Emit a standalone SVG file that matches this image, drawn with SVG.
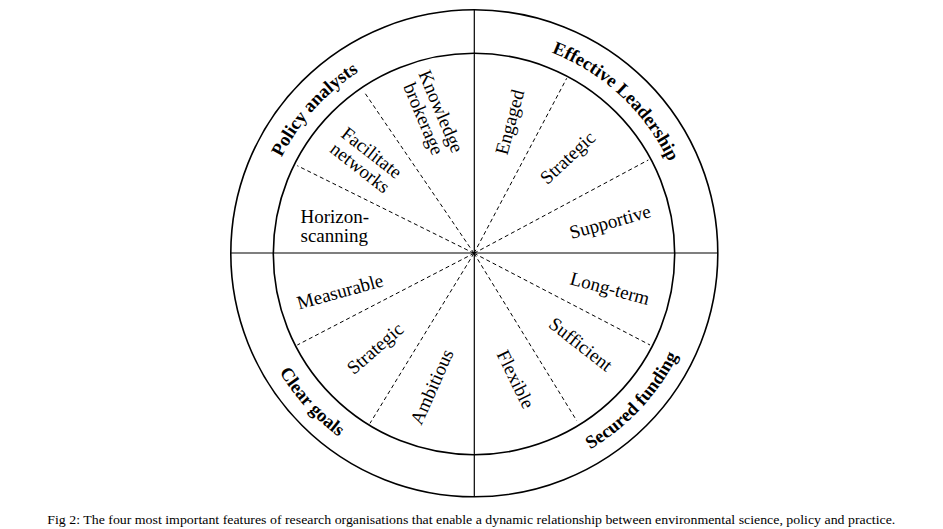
<svg xmlns="http://www.w3.org/2000/svg" width="943" height="529" viewBox="0 0 943 529">
<style>
.ring{fill:none;stroke:#000;stroke-width:1.6}
.axis{stroke:#000;stroke-width:1.2}
.dash{stroke:#000;stroke-width:1;stroke-dasharray:4 3}
.lbl{font-family:"Liberation Serif","Times New Roman",serif;font-size:19px;fill:#000}
.c{text-anchor:middle}
.head{font-family:"Liberation Serif","Times New Roman",serif;font-size:18.5px;font-weight:bold;fill:#000}
.cap{font-family:"Liberation Serif","Times New Roman",serif;font-size:12.5px;fill:#000}
</style>
<defs>
<path id="arcPolicy" d="M259.3,264.6 A215,215 0 0 1 462.75,38.6"/>
<path id="arcLead" d="M466.5,38.4 A215,215 0 0 1 688.9,245.8"/>
<path id="arcGoals" d="M246.2,243.35 A228,228 0 0 0 464.05,481.1"/>
<path id="arcFund" d="M481.96,481.16 A228,228 0 0 0 701.86,245.34"/>
</defs>
<rect width="943" height="529" fill="#fff"/>
<g id="wheel">
<circle class="ring" cx="474.3" cy="253.3" r="243.5"/>
<circle class="ring" cx="474" cy="254" r="200.7"/>
</g>
<g id="connectors">
<line class="axis" x1="231" y1="253" x2="718" y2="253"/>
<line class="axis" x1="474.3" y1="9.5" x2="474.3" y2="497"/>
<line class="dash" x1="474" y1="253.3" x2="297.3" y2="165.7"/>
<line class="dash" x1="474" y1="253.3" x2="364" y2="91.7"/>
<line class="dash" x1="474" y1="253.3" x2="566.7" y2="78.3"/>
<line class="dash" x1="474" y1="253.3" x2="648.3" y2="160"/>
<line class="dash" x1="474" y1="253.3" x2="297.3" y2="345"/>
<line class="dash" x1="474" y1="253.3" x2="370" y2="423.3"/>
<line class="dash" x1="474" y1="253.3" x2="650" y2="345"/>
<line class="dash" x1="474" y1="253.3" x2="576.7" y2="420.7"/>
</g>
<g id="policy-analysts">
<text class="head c"><textPath href="#arcPolicy" startOffset="50%">Policy analysts</textPath></text>
<text class="lbl" x="300.5" y="222.7">Horizon-</text>
<text class="lbl" x="300.5" y="241.7">scanning</text>
<text class="lbl c" transform="translate(366,160) rotate(38)"><tspan x="0" y="-3">Facilitate</tspan><tspan x="0" y="16">networks</tspan></text>
<text class="lbl c" transform="translate(432.5,115) rotate(67)"><tspan x="0" y="-3">Knowledge</tspan><tspan x="0" y="16">brokerage</tspan></text>
</g>
<g id="effective-leadership">
<text class="head c"><textPath href="#arcLead" startOffset="50%">Effective Leadership</textPath></text>
<text class="lbl c" transform="translate(509.5,122) rotate(-75)" y="6.5">Engaged</text>
<text class="lbl c" transform="translate(567.5,157.5) rotate(-43)" y="6.5">Strategic</text>
<text class="lbl c" transform="translate(610,221.7) rotate(-15.5)" y="6.5">Supportive</text>
</g>
<g id="clear-goals">
<text class="head c"><textPath href="#arcGoals" startOffset="50%">Clear goals</textPath></text>
<text class="lbl c" transform="translate(340,291.5) rotate(-15.5)" y="6.5">Measurable</text>
<text class="lbl c" transform="translate(375,348.3) rotate(-41)" y="6.5">Strategic</text>
<text class="lbl c" transform="translate(431.7,386.7) rotate(-66)" y="6.5">Ambitious</text>
</g>
<g id="secured-funding">
<text class="head c"><textPath href="#arcFund" startOffset="50%">Secured funding</textPath></text>
<text class="lbl c" transform="translate(610,288.3) rotate(15)" y="6.5">Long-term</text>
<text class="lbl c" transform="translate(580.8,344.2) rotate(38)" y="6.5">Sufficient</text>
<text class="lbl c" transform="translate(515.8,379.2) rotate(64)" y="6.5">Flexible</text>
</g>
<g id="caption">
<text class="cap" x="47.3" y="524.3" textLength="848" lengthAdjust="spacingAndGlyphs">Fig 2: The four most important features of research organisations that enable a dynamic relationship between environmental science, policy and practice.</text>
</g>
</svg>
